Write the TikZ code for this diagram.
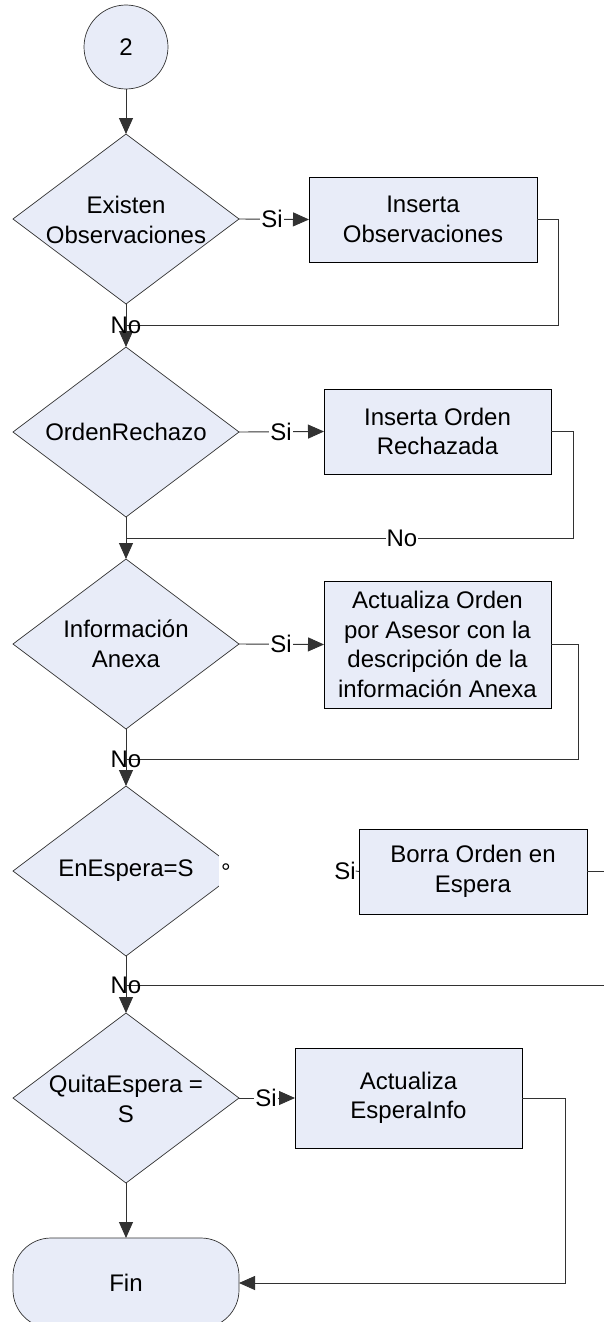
\documentclass[tikz,border=0pt]{standalone}
\usepackage{fontspec}
\setmainfont{Liberation Sans}
\usetikzlibrary{shapes.geometric,arrows.meta}
\definecolor{boxfill}{RGB}{232,236,248}
\definecolor{linec}{RGB}{50,50,50}
\begin{document}
\begin{tikzpicture}[x=1pt,y=-1pt,
  font=\fontsize{24}{29.5}\selectfont,
  every node/.style={inner sep=0pt, outer sep=0pt},
  dec/.style={diamond, draw=linec, fill=boxfill, minimum width=226pt, minimum height=170pt, line width=0.7pt},
  proc/.style={rectangle, draw=black, fill=boxfill, line width=0.9pt, align=center},
  conn/.style={draw=linec, line width=0.9pt},
  arr/.style={conn, -{Triangle[length=16pt,width=14pt]}},
  lab/.style={fill=white, inner sep=1pt},
  txt/.style={align=center}
]
\useasboundingbox (0,0) rectangle (604,1322);
\begin{scope}
\clip (0,0) rectangle (604,1322);

% start
\node[circle, draw=linec, fill=boxfill, minimum size=84pt, line width=0.7pt] (c2) at (126,47) {2};

% decisions
\node[dec] (d1) at (126,219) {};
\node[txt] (t1) at (126,220) {Existen\\Observaciones};
\node[dec] (d2) at (126,432) {};
\node[txt] (t2) at (126,432) {OrdenRechazo};
\node[dec] (d3) at (126,644) {};
\node[txt] (t3) at (126,644) {Información\\Anexa};
\node[dec] (d4) at (126,871) {};
\node[txt] (t4) at (126,871) {EnEspera=S};
\node[fill=white, minimum width=24pt, minimum height=32pt] (mask) at (231,871) {};
\node[anchor=base] (deg) at (226,880) {°};
\node[dec] (d5) at (126,1098) {};
\node[txt] (t5) at (126,1099) {QuitaEspera =\\S};

% processes
\node[proc, minimum width=228pt, minimum height=85pt] (b1) at (423,219.5) {Inserta\\Observaciones};
\node[proc, minimum width=227pt, minimum height=85pt] (b2) at (437.5,431.5) {Inserta Orden\\Rechazada};
\node[proc, minimum width=227pt, minimum height=127pt] (b3) at (437.5,644.5) {Actualiza Orden\\por Asesor con la\\descripción de la\\información Anexa};
\node[proc, minimum width=228pt, minimum height=85pt] (b4) at (473,871.5) {Borra Orden en\\Espera};
\node[proc, minimum width=227pt, minimum height=100pt] (b5) at (408.5,1098) {Actualiza\\EsperaInfo};

% end
\node[rectangle, rounded corners=38pt, draw=linec, fill=boxfill, line width=0.7pt, minimum width=226pt, minimum height=90pt] (fin) at (126,1283) {Fin};

% junction coordinates
\coordinate (j1) at (126,325);
\coordinate (j2) at (126,538);
\coordinate (j3) at (126,759);
\coordinate (j4) at (126,985);
\coordinate (e4) at (604,871.5);
\coordinate (e5) at (604,985);

% connectors
\draw[arr] (c2.south) -- (d1.north);

\draw[arr] (d1.east) -- (b1.west);
\node[lab] (s1) at (272,219) {Si};
\draw[conn] (b1.east) -- ++(21,0) |- (j1);
\draw[arr] (d1.south) -- (d2.north);
\node (n1) at (126,325) {No};

\draw[arr] (d2.east) -- (b2.west);
\node[lab] (s2) at (281,432) {Si};
\draw[conn] (b2.east) -- ++(22,0) |- (j2);
\node[lab] (n2) at (402,538) {No};
\draw[arr] (d2.south) -- (d3.north);

\draw[arr] (d3.east) -- (b3.west);
\node[lab] (s3) at (281,644) {Si};
\draw[conn] (b3.east) -- ++(27,0) |- (j3);
\draw[arr] (d3.south) -- (d4.north);
\node (n3) at (126,759) {No};

\node (s4) at (345,871) {Si};
\draw[conn] (s4.east) -- (b4.west);
\draw[conn] (b4.east) -- (e4);
\draw[conn] (j4) -- (e5);
\draw[arr] (d4.south) -- (d5.north);
\node (n4) at (126,985) {No};

\draw[arr] (d5.east) -- (b5.west);
\node[lab] (s5) at (266,1098) {Si};
\draw[arr] (d5.south) -- (fin.north);
\draw[arr] (b5.east) -- ++(43,0) |- (fin.east);
\end{scope}
\end{tikzpicture}
\end{document}
